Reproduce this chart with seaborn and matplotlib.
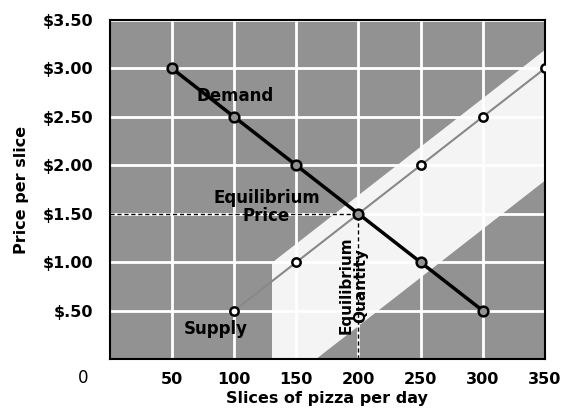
import numpy as np
import pandas as pd
import seaborn as sns
import matplotlib.pyplot as plt

# data
demand_qty = [50, 100, 150, 200, 250, 300]
demand_price = [3.00, 2.50, 2.00, 1.50, 1.00, 0.50]
supply_qty = [100, 150, 200, 250, 300, 350]
supply_price = [0.50, 1.00, 1.50, 2.00, 2.50, 3.00]
x_ticks = [50, 100, 150, 200, 250, 300, 350]
y_ticks = [0.5, 1.0, 1.5, 2.0, 2.5, 3.0, 3.5]
y_labels = ['$.50', '$1.00', '$1.50', '$2.00', '$2.50', '$3.00', '$3.50']
eq_qty, eq_price = 200, 1.50

demand = pd.DataFrame({'qty': demand_qty, 'price': demand_price})
supply = pd.DataFrame({'qty': supply_qty, 'price': supply_price})

sns.set_style('white')
plt.rcParams['font.family'] = ['DejaVu Sans']
plt.rcParams['font.weight'] = 'bold'
plt.rcParams['text.color'] = 'black'
plt.rcParams['axes.labelcolor'] = 'black'
plt.rcParams['xtick.labelcolor'] = 'black'
plt.rcParams['ytick.labelcolor'] = 'black'

fig = plt.figure(figsize=(5.64, 4.18), dpi=100)
ax = fig.add_axes([0.195, 0.141, 0.771, 0.811])
bg = '#929292'
ax.set_facecolor(bg)

# light band along the supply curve, like the scan's white patches
band_x = np.array([130, 350])
ax.fill_between(band_x, (band_x - 130) / 100 - 0.35, (band_x - 130) / 100 + 1.0,
                color='#f4f4f4', zorder=0.5, lw=0)

ax.set_xlim(0, 350)
ax.set_ylim(0, 3.5)
ax.set_xticks(x_ticks)
ax.set_yticks(y_ticks)
ax.set_yticklabels(y_labels)
ax.grid(True, color='white', lw=2)
ax.set_axisbelow(True)

sns.lineplot(data=supply, x='qty', y='price', ax=ax, color='#888888', lw=1.5,
             marker='o', markersize=6, markerfacecolor='white',
             markeredgecolor='black', markeredgewidth=1.8, zorder=3)
sns.lineplot(data=demand, x='qty', y='price', ax=ax, color='black', lw=2.5,
             marker='o', markersize=7, markerfacecolor=bg,
             markeredgecolor='black', markeredgewidth=1.8, zorder=4)

ax.plot([0, eq_qty], [eq_price, eq_price], ls=(0, (3, 2)), color='black', lw=1, zorder=2)
ax.plot([eq_qty, eq_qty], [0, eq_price], ls=(0, (3, 2)), color='black', lw=1, zorder=2)

fs = 12
ax.text(101, 2.72, 'Demand', ha='center', va='center', fontsize=fs, fontweight='bold')
ax.text(126, 1.57, 'Equilibrium\nPrice', ha='center', va='center', fontsize=fs,
        fontweight='bold', linespacing=1.0)
ax.text(85, 0.31, 'Supply', ha='center', va='center', fontsize=fs, fontweight='bold')
ax.text(196, 0.76, 'Equilibrium\nQuantity', ha='center', va='center', fontsize=11,
        fontweight='bold', rotation=90, linespacing=1.0)

for s in ax.spines.values():
    s.set_color('black')
    s.set_linewidth(1.5)

ax.tick_params(axis='x', length=5, width=0.8, color='#555555', pad=4, labelsize=11.5)
ax.tick_params(axis='y', length=10, width=0.8, color='#555555', pad=2, labelsize=11.5)
ax.text(-0.062, -0.056, '0', transform=ax.transAxes, ha='center', va='center',
        fontsize=12, fontweight='normal')

ax.set_xlabel('Slices of pizza per day', fontsize=11.5, fontweight='bold', labelpad=3)
ax.set_ylabel('Price per slice', fontsize=11.5, fontweight='bold', labelpad=10)

fig.savefig('out.png', dpi=100)
